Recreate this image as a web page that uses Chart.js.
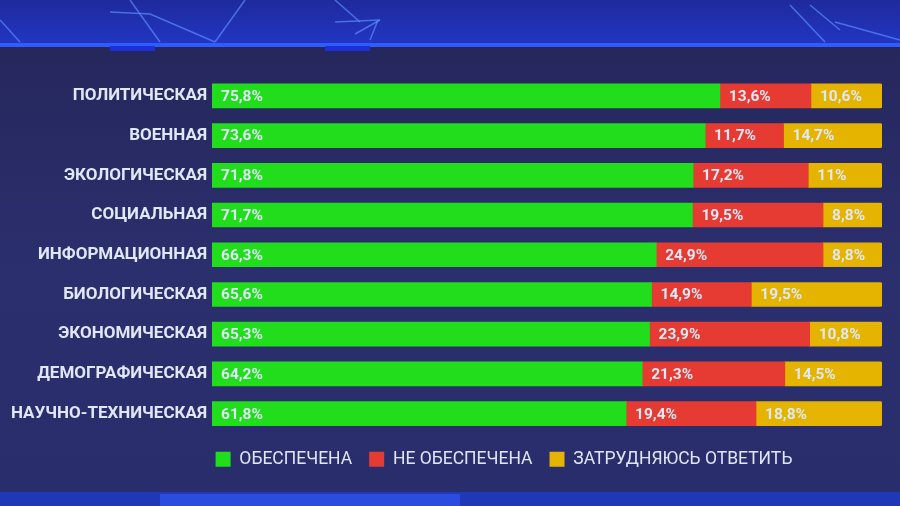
<!DOCTYPE html>
<html><head><meta charset="utf-8">
<script src="https://cdn.jsdelivr.net/npm/chart.js@4/dist/chart.umd.min.js"></script>
<style>html,body{margin:0;padding:0;background:#2a2c66;}#wrap{width:900px;height:506px;}</style>
</head><body><div id="wrap"><canvas id="c" width="900" height="506"></canvas></div>
<script>
const categories = ["ПОЛИТИЧЕСКАЯ","ВОЕННАЯ","ЭКОЛОГИЧЕСКАЯ","СОЦИАЛЬНАЯ","ИНФОРМАЦИОННАЯ","БИОЛОГИЧЕСКАЯ","ЭКОНОМИЧЕСКАЯ","ДЕМОГРАФИЧЕСКАЯ","НАУЧНО-ТЕХНИЧЕСКАЯ"];
const provided = [75.8,73.6,71.8,71.7,66.3,65.6,65.3,64.2,61.8];
const notProvided = [13.6,11.7,17.2,19.5,24.9,14.9,23.9,21.3,19.4];
const hardToSay = [10.6,14.7,11,8.8,8.8,19.5,10.8,14.5,18.8];
const seriesNames = ["ОБЕСПЕЧЕНА","НЕ ОБЕСПЕЧЕНА","ЗАТРУДНЯЮСЬ ОТВЕТИТЬ"];

const bgPlugin = {
  id:'bg',
  afterLayout(chart){
    if (chart.legend) { chart.legend.left = 126; }
  },
  beforeDraw(chart){
    const ctx = chart.ctx, W = chart.width, H = chart.height;
    ctx.save();
    const g = ctx.createLinearGradient(0,45,0,H);
    g.addColorStop(0,'#25275c'); g.addColorStop(0.5,'#2c2f6e'); g.addColorStop(1,'#2a2d6c');
    ctx.fillStyle = g; ctx.fillRect(0,0,W,H);
    const t = ctx.createLinearGradient(0,0,0,45);
    t.addColorStop(0,'#1e2a9c'); t.addColorStop(1,'#2236c4');
    ctx.fillStyle = t; ctx.fillRect(0,0,W,44);
    ctx.strokeStyle = 'rgba(90,140,255,0.7)'; ctx.lineWidth = 1.5;
    const lines = [[110,12,150,14],[150,14,215,42],[130,0,160,42],[215,42,245,0],[335,0,360,22],[335,22,380,20],[380,20,355,34],[370,40,378,20],[790,5,825,42],[810,5,840,30],[835,22,900,40],[0,20,20,42]];
    lines.forEach(l=>{ctx.beginPath();ctx.moveTo(l[0],l[1]);ctx.lineTo(l[2],l[3]);ctx.stroke();});
    ctx.fillStyle = '#2f5cff'; ctx.fillRect(0,43,W,4);
    ctx.fillStyle = '#1f2fd8'; ctx.fillRect(110,46,45,5); ctx.fillRect(325,46,45,5);
    ctx.fillStyle = '#1f38b8'; ctx.fillRect(0,492,W,14);
    ctx.fillStyle = '#2a4de0'; ctx.fillRect(160,494,300,12);
    ctx.restore();
  }
};

const labelPlugin = {
  id:'vals',
  afterDatasetsDraw(chart){
    const ctx = chart.ctx;
    ctx.save();
    ctx.font = 'bold 15.5px "Roboto", sans-serif';
    ctx.fillStyle = '#dfe8f6';
    ctx.textBaseline = 'middle';
    ctx.textAlign = 'left';
    chart.data.datasets.forEach((ds,di)=>{
      const meta = chart.getDatasetMeta(di);
      meta.data.forEach((bar,i)=>{
        const v = ds.data[i];
        const txt = String(v).replace('.',',') + '%';
        const start = Math.min(bar.base, bar.x);
        ctx.fillText(txt, start + 9, bar.y + 1);
      });
    });
    ctx.restore();
  }
};

new Chart(document.getElementById('c'), {
  type:'bar',
  data:{
    labels: categories,
    datasets:[
      {label:seriesNames[0], data:provided, backgroundColor:'#22dd1c', borderWidth:0},
      {label:seriesNames[1], data:notProvided, backgroundColor:'#e53b32', borderWidth:0},
      {label:seriesNames[2], data:hardToSay, backgroundColor:'#e5b400', borderWidth:0, borderRadius:2, borderSkipped:'start'}
    ]
  },
  options:{
    indexAxis:'y',
    responsive:false,
    animation:false,
    layout:{padding:{left:0,right:18,top:76,bottom:28}},
    datasets:{bar:{barThickness:24}},
    scales:{
      x:{stacked:true,min:0,max:100,display:false,grid:{display:false}},
      y:{stacked:true,grid:{display:false,drawTicks:false},border:{display:false},
         ticks:{color:'#e0e8f6',padding:5,font:{family:'Roboto',weight:'bold',size:17}},
         afterFit(s){s.width = 212;}}
    },
    plugins:{
      legend:{position:'bottom',
        labels:{color:'#dfe6f4',boxWidth:15,boxHeight:15,padding:17,font:{family:'Roboto',size:17.5}}},
      tooltip:{enabled:false}
    }
  },
  plugins:[bgPlugin,labelPlugin]
});
</script></body></html>
